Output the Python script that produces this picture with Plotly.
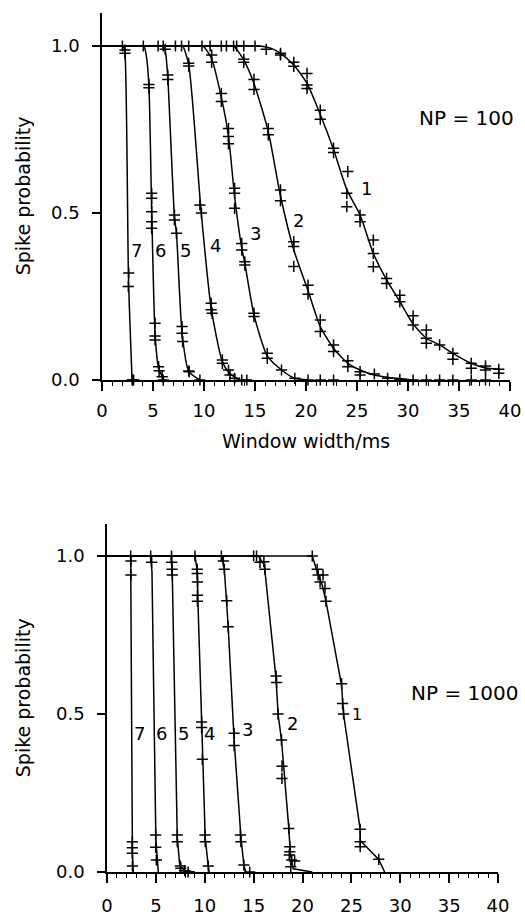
import plotly.graph_objects as go

# ---------------- data: NP = 100 (top panel) ----------------
CURVE_NAMES = ["1", "2", "3", "4", "5", "6", "7"]

TOP_LINE_X = [
    [0, 15.0, 15.5, 16.6, 17.5, 18.8, 20.1, 21.4, 22.7, 24.0, 25.3, 26.6, 27.9, 29.2, 30.5, 31.8, 33.1, 34.4, 36.2, 37.6, 38.9],
    [0, 12.5, 12.9, 13.9, 14.9, 16.3, 17.5, 18.8, 20.2, 21.4, 22.7, 24.1, 25.3, 26.7, 28.0, 30.5],
    [0, 9.5, 9.9, 10.75, 11.7, 12.4, 13.0, 13.7, 14.0, 14.9, 16.2, 17.6, 18.9, 20.2],
    [0, 7.5, 7.9, 8.5, 9.7, 10.7, 11.8, 12.5, 13.5],
    [0, 5.6, 5.9, 6.2, 6.45, 7.1, 7.3, 7.85, 8.5, 9.6],
    [0, 3.8, 4.1, 4.35, 4.6, 4.87, 5.2, 5.55, 5.9, 6.1],
    [0, 1.8, 2.05, 2.25, 2.6, 2.95],
]
TOP_LINE_Y = [
    [1.0, 1.0, 1.0, 0.993, 0.978, 0.943, 0.888, 0.795, 0.69, 0.57, 0.494, 0.379, 0.30, 0.235, 0.168, 0.125, 0.105, 0.08, 0.05, 0.036, 0.033],
    [1.0, 1.0, 1.0, 0.958, 0.888, 0.744, 0.551, 0.39, 0.267, 0.16, 0.095, 0.05, 0.03, 0.015, 0.008, 0.0],
    [1.0, 1.0, 1.0, 0.962, 0.846, 0.73, 0.55, 0.395, 0.35, 0.195, 0.072, 0.03, 0.005, 0.0],
    [1.0, 1.0, 1.0, 0.944, 0.51, 0.215, 0.055, 0.02, 0.0],
    [1.0, 1.0, 1.0, 0.985, 0.905, 0.49, 0.44, 0.14, 0.026, 0.0],
    [1.0, 1.0, 1.0, 0.97, 0.88, 0.51, 0.14, 0.035, 0.01, 0.0],
    [1.0, 1.0, 1.0, 0.975, 0.30, 0.0],
]
TOP_PTS_X = [
    [13.2, 13.9, 15.0, 16.1, 17.5, 17.5, 18.8, 18.8, 20.1, 20.1, 20.1, 21.4, 21.4, 22.7, 22.7, 24.1, 24.0, 24.0,
     25.3, 25.3, 26.6, 26.6, 26.6, 27.9, 27.9, 29.2, 29.2, 30.5, 30.5, 31.8, 31.8, 31.8, 33.1, 34.4, 34.4,
     36.2, 36.2, 37.6, 37.6, 38.9, 38.9],
    [10.6, 11.7, 12.2, 12.9, 13.9, 13.9, 14.9, 14.9, 16.3, 16.3, 17.5, 17.5, 18.8, 18.8, 18.8, 20.2, 20.2,
     21.4, 21.4, 22.7, 22.7, 24.1, 24.1, 25.3, 25.3, 26.7, 28.0, 29.2, 30.5, 31.8, 33.1, 34.4, 36.2, 37.6],
    [8.5, 9.8, 10.75, 10.75, 11.7, 11.7, 12.4, 12.4, 12.4, 13.0, 13.0, 13.0, 13.7, 13.7, 14.0, 14.0,
     14.9, 14.9, 16.2, 16.2, 17.6, 18.9, 20.2, 21.4, 22.7],
    [7.2, 7.8, 8.5, 8.5, 9.6, 9.75, 10.7, 10.7, 10.8, 11.8, 11.8, 12.4, 12.55, 13.0, 13.7, 14.2],
    [5.5, 6.0, 6.2, 6.45, 6.45, 7.1, 7.1, 7.3, 7.85, 7.85, 7.9, 8.5, 8.55, 9.6],
    [4.05, 4.6, 4.6, 4.87, 4.87, 4.87, 4.87, 4.87, 5.2, 5.2, 5.2, 5.55, 5.6, 5.9, 6.0],
    [2.0, 2.25, 2.25, 2.62, 2.58, 2.95, 3.1],
]
TOP_PTS_Y = [
    [1.0, 1.0, 1.0, 0.99, 0.978, 0.973, 0.951, 0.939, 0.918, 0.883, 0.873, 0.808, 0.781, 0.694, 0.681,
     0.624, 0.559, 0.519, 0.494, 0.474, 0.419, 0.379, 0.339, 0.304, 0.289, 0.254, 0.234, 0.192, 0.165,
     0.15, 0.125, 0.11, 0.105, 0.08, 0.062, 0.05, 0.035, 0.042, 0.03, 0.032, 0.02],
    [1.0, 1.0, 1.0, 1.0, 0.96, 0.951, 0.90, 0.87, 0.753, 0.734, 0.569, 0.537, 0.414, 0.40, 0.34, 0.284,
     0.257, 0.18, 0.145, 0.105, 0.085, 0.058, 0.04, 0.025, 0.015, 0.018, 0.005, 0.002, 0.0, 0.0, 0.0,
     0.0, 0.0, 0.0],
    [1.0, 1.0, 0.973, 0.951, 0.858, 0.834, 0.753, 0.729, 0.707, 0.574, 0.559, 0.514, 0.409, 0.389,
     0.354, 0.344, 0.20, 0.19, 0.08, 0.065, 0.03, 0.005, 0.0, 0.0, 0.0],
    [1.0, 1.0, 0.948, 0.94, 0.524, 0.50, 0.23, 0.21, 0.20, 0.06, 0.05, 0.03, 0.015, 0.005, 0.0, 0.0],
    [1.0, 1.0, 0.99, 0.913, 0.90, 0.494, 0.479, 0.439, 0.16, 0.14, 0.115, 0.027, 0.025, 0.0],
    [1.0, 0.885, 0.875, 0.559, 0.544, 0.504, 0.474, 0.454, 0.17, 0.132, 0.12, 0.04, 0.028, 0.01, 0.0],
    [1.0, 0.988, 0.978, 0.32, 0.28, 0.0, 0.0],
]
TOP_LABEL_X = [25.9, 19.3, 15.0, 11.1, 8.2, 5.7, 3.35]
TOP_LABEL_Y = [0.574, 0.479, 0.439, 0.404, 0.389, 0.389, 0.389]

# ---------------- data: NP = 1000 (bottom panel) ----------------
BOT_LINE_X = [
    [0, 21.0, 21.5, 22.0, 22.4, 24.0, 24.2, 25.9, 25.9, 27.8, 28.4],
    [0, 15.5, 16.1, 17.3, 17.5, 17.85, 18.6, 18.75, 19.05, 21.0],
    [0, 11.75, 12.0, 12.3, 12.4, 13.0, 13.7, 14.0, 14.2],
    [0, 9.0, 9.25, 9.3, 9.7, 10.05, 10.36, 10.45],
    [0, 6.55, 6.68, 7.19, 7.45, 8.0, 9.0],
    [0, 4.45, 4.6, 5.0, 5.25],
    [0, 2.42, 2.6, 2.69],
]
BOT_LINE_Y = [
    [1.0, 1.0, 0.95, 0.91, 0.857, 0.59, 0.50, 0.135, 0.10, 0.04, 0.0],
    [1.0, 1.0, 0.97, 0.61, 0.50, 0.418, 0.138, 0.06, 0.01, 0.0],
    [1.0, 1.0, 0.96, 0.84, 0.776, 0.42, 0.11, 0.022, 0.0],
    [1.0, 1.0, 0.95, 0.857, 0.46, 0.107, 0.019, 0.0],
    [1.0, 1.0, 0.94, 0.107, 0.02, 0.003, 0.0],
    [1.0, 1.0, 0.95, 0.10, 0.0],
    [1.0, 1.0, 0.06, 0.0],
]
BOT_PTS_X = [
    [21.0, 21.5, 21.6, 22.1, 21.8, 22.3, 22.4, 24.0, 24.1, 24.2, 25.9, 25.9, 25.9, 27.8],
    [15.0, 15.3, 15.65, 16.05, 16.15, 17.3, 17.35, 17.5, 17.85, 17.9, 17.9, 18.6, 18.7, 18.7, 18.65, 18.9, 19.2, 18.8],
    [11.7, 11.9, 12.0, 12.25, 12.4, 13.0, 13.0, 13.65, 13.7, 14.0, 14.6],
    [9.0, 9.23, 9.23, 9.25, 9.25, 9.25, 9.68, 9.68, 9.75, 10.02, 10.05, 10.36],
    [6.6, 6.62, 6.65, 6.68, 7.19, 7.19, 7.5, 7.55, 7.95, 8.3],
    [4.47, 4.57, 4.98, 4.98, 5.05],
    [2.42, 2.45, 2.45, 2.59, 2.59, 2.59, 2.6],
]
BOT_PTS_Y = [
    [1.0, 0.958, 0.94, 0.94, 0.918, 0.897, 0.857, 0.596, 0.533, 0.50, 0.135, 0.096, 0.08, 0.04],
    [1.0, 1.0, 0.98, 0.982, 0.958, 0.62, 0.60, 0.50, 0.418, 0.335, 0.296, 0.138, 0.08, 0.064, 0.054, 0.038, 0.035, 0.017],
    [1.0, 0.984, 0.958, 0.858, 0.776, 0.439, 0.40, 0.117, 0.096, 0.022, 0.0],
    [1.0, 0.958, 0.945, 0.918, 0.876, 0.857, 0.475, 0.457, 0.357, 0.117, 0.096, 0.019],
    [1.0, 0.98, 0.958, 0.94, 0.117, 0.096, 0.019, 0.012, 0.004, 0.0],
    [1.0, 0.98, 0.117, 0.078, 0.038],
    [1.0, 0.984, 0.94, 0.096, 0.077, 0.059, 0.019],
]
BOT_LABEL_X = [25.55, 18.95, 14.35, 10.5, 7.8, 5.6, 3.3]
BOT_LABEL_Y = [0.50, 0.47, 0.452, 0.439, 0.439, 0.439, 0.439]

Y_TICKS = [0.0, 0.5, 1.0]
Y_TICK_TEXT = ["0.0", "0.5", "1.0"]
X_TICKS = [0, 5, 10, 15, 20, 25, 30, 35, 40]
PANEL_TEXT = ["NP = 100", "NP = 1000"]
Y_TITLE = "Spike probability"
X_TITLE = "Window width/ms"

FONT = "DejaVu Sans"
W, H = 525, 915

fig = go.Figure()

def add_panel(lx, ly, px, py, xa, ya, shape):
    for i in range(len(lx)):
        fig.add_trace(go.Scatter(
            x=lx[i], y=ly[i], mode="lines", xaxis=xa, yaxis=ya,
            line=dict(color="black", width=1.5, shape=shape, smoothing=0.6),
            showlegend=False, hoverinfo="skip"))
        fig.add_trace(go.Scatter(
            x=px[i], y=py[i], mode="markers", xaxis=xa, yaxis=ya,
            marker=dict(symbol="cross-thin", size=8, color="black",
                        line=dict(color="black", width=1.5)),
            cliponaxis=False, showlegend=False, name="curve " + CURVE_NAMES[i]))

add_panel(TOP_LINE_X, TOP_LINE_Y, TOP_PTS_X, TOP_PTS_Y, "x", "y", "spline")
add_panel(BOT_LINE_X, BOT_LINE_Y, BOT_PTS_X, BOT_PTS_Y, "x2", "y2", "linear")

def xaxis_cfg(domain, anchor, standoff):
    return dict(domain=domain, anchor=anchor, range=[0, 40], showgrid=False, zeroline=False,
                automargin=False,
                showline=True, linecolor="black", linewidth=1.5,
                ticks="outside", ticklen=9, tickwidth=1.5, tickcolor="black",
                tickvals=X_TICKS, ticklabelstandoff=standoff,
                tickfont=dict(family=FONT, size=18, color="black"),
                minor=dict(ticks="outside", ticklen=4, tickwidth=1.2, tickcolor="black",
                           dtick=1, tick0=0, showgrid=False))

def yaxis_cfg(domain, anchor):
    return dict(domain=domain, anchor=anchor, range=[0, 1.1], showgrid=False, zeroline=False,
                automargin=False,
                showline=True, linecolor="black", linewidth=1.5,
                ticks="outside", ticklen=8, tickwidth=1.5, tickcolor="black",
                tickvals=Y_TICKS, ticktext=Y_TICK_TEXT, ticklabelstandoff=9,
                tickfont=dict(family=FONT, size=18, color="black"))

TOP_Y_DOM = [(H - 380) / H, (H - 12.6) / H]
BOT_Y_DOM = [(H - 872) / H, (H - 524.4) / H]

fig.update_layout(
    width=W, height=H,
    margin=dict(l=0, r=0, t=0, b=0),
    paper_bgcolor="white", plot_bgcolor="white",
    font=dict(family=FONT, color="black"),
    xaxis=xaxis_cfg([102 / W, 510 / W], "y", 5),
    yaxis=yaxis_cfg(TOP_Y_DOM, "x"),
    xaxis2=xaxis_cfg([107 / W, 498 / W], "y2", 8),
    yaxis2=yaxis_cfg(BOT_Y_DOM, "x2"),
)

annotations = []
for i, name in enumerate(CURVE_NAMES):
    annotations.append(dict(x=TOP_LABEL_X[i], y=TOP_LABEL_Y[i], xref="x", yref="y", text=name,
                            showarrow=False, font=dict(family=FONT, size=18, color="black")))
    annotations.append(dict(x=BOT_LABEL_X[i], y=BOT_LABEL_Y[i], xref="x2", yref="y2", text=name,
                            showarrow=False, font=dict(family=FONT, size=16 if name == "1" else 18, color="black")))
annotations.append(dict(x=35.7, y=0.784, xref="x", yref="y", text=PANEL_TEXT[0], showarrow=False,
                        font=dict(family=FONT, size=20, color="black")))
annotations.append(dict(x=36.6, y=0.566, xref="x2", yref="y2", text=PANEL_TEXT[1], showarrow=False,
                        font=dict(family=FONT, size=20, color="black")))
# axis titles
for dom in (TOP_Y_DOM, BOT_Y_DOM):
    annotations.append(dict(x=23 / W, y=(dom[0] + dom[1]) / 2, xref="paper", yref="paper",
                            text=Y_TITLE, textangle=-90, showarrow=False,
                            xanchor="center", yanchor="middle",
                            font=dict(family=FONT, size=19, color="black")))
annotations.append(dict(x=306 / W, y=(H - 441) / H, xref="paper", yref="paper", text=X_TITLE,
                        showarrow=False, xanchor="center", yanchor="middle",
                        font=dict(family=FONT, size=19, color="black")))
fig.update_layout(annotations=annotations)

fig.write_html("out.html",
               config={"displayModeBar": False},
               post_script="document.body.style.margin='0px';document.body.style.overflow='hidden';")
